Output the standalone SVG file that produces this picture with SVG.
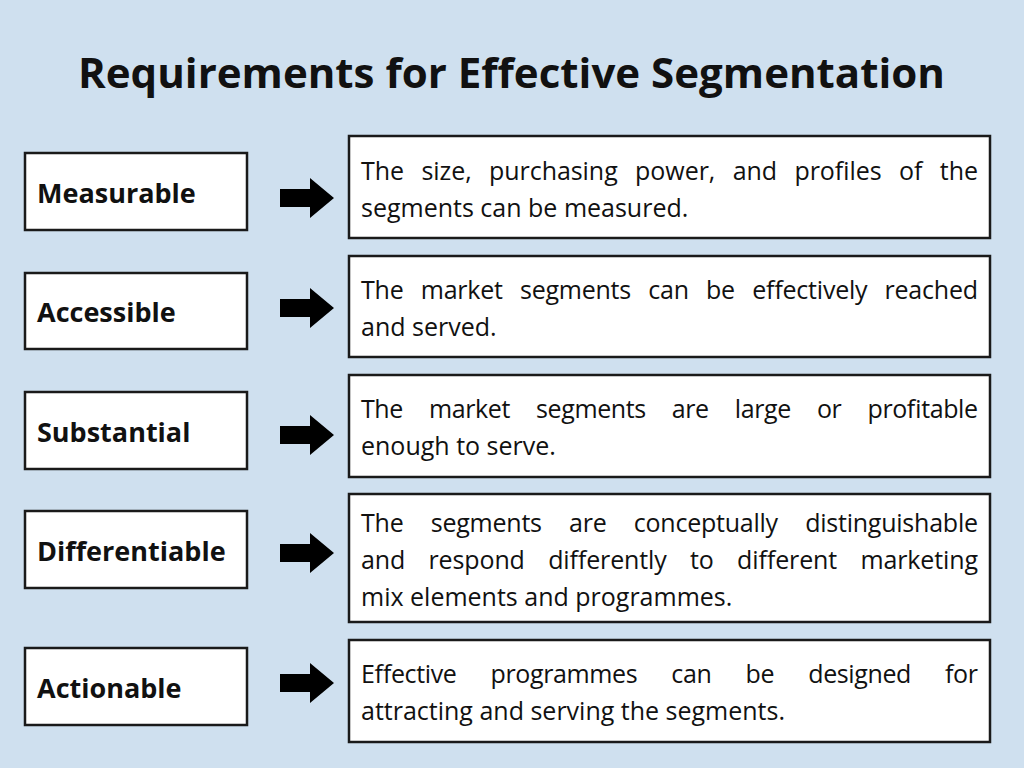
<svg xmlns="http://www.w3.org/2000/svg" width="1024" height="768" viewBox="0 0 1024 768">
<style>
.l{fill:#fff;stroke:#1a1a1a;stroke-width:2.5}
.lt{font-family:"Open Sans","Liberation Sans",sans-serif;font-weight:bold;font-size:27px;fill:#111}
.rt{font-family:"Open Sans","Liberation Sans",sans-serif;font-size:25px;fill:#111}
.ti{font-family:"Open Sans","Liberation Sans",sans-serif;font-weight:bold;font-size:42px;fill:#111}
</style>
<defs>
<path id="ar" d="M280,-9 H310 V-20 L334,0 L310,20 V9 H280 Z" fill="#000"/>
</defs>
<rect width="1024" height="768" fill="#cfe0ef"/>
<text class="ti" x="78" y="88" textLength="867" lengthAdjust="spacingAndGlyphs">Requirements for Effective Segmentation</text>
<g id="connectors">
<use href="#ar" y="198"/><use href="#ar" y="308"/><use href="#ar" y="435"/><use href="#ar" y="553"/><use href="#ar" y="683"/>
</g>
<g id="n1"><rect class="l" x="25" y="153" width="222" height="77"/><text class="lt" x="37" y="203">Measurable</text></g>
<g id="n2"><rect class="l" x="25" y="273" width="222" height="76"/><text class="lt" x="37" y="322">Accessible</text></g>
<g id="n3"><rect class="l" x="25" y="392" width="222" height="77"/><text class="lt" x="37" y="442">Substantial</text></g>
<g id="n4"><rect class="l" x="25" y="511" width="222" height="77"/><text class="lt" x="37" y="561">Differentiable</text></g>
<g id="n5"><rect class="l" x="25" y="648" width="222" height="77"/><text class="lt" x="37" y="698">Actionable</text></g>
<g id="d1"><rect class="l" x="349" y="136" width="641" height="102"/>
<text class="rt" x="361" y="180" word-spacing="11" textLength="617" lengthAdjust="spacing">The size, purchasing power, and profiles of the</text>
<text class="rt" x="361" y="217">segments can be measured.</text></g>
<g id="d2"><rect class="l" x="349" y="256" width="641" height="101"/>
<text class="rt" x="361" y="299" word-spacing="11" textLength="617" lengthAdjust="spacing">The market segments can be effectively reached</text>
<text class="rt" x="361" y="336">and served.</text></g>
<g id="d3"><rect class="l" x="349" y="375" width="641" height="102"/>
<text class="rt" x="361" y="418" word-spacing="20" textLength="617" lengthAdjust="spacing">The market segments are large or profitable</text>
<text class="rt" x="361" y="455">enough to serve.</text></g>
<g id="d4"><rect class="l" x="349" y="494" width="641" height="128"/>
<text class="rt" x="361" y="532" word-spacing="21" textLength="617" lengthAdjust="spacing">The segments are conceptually distinguishable</text>
<text class="rt" x="361" y="569" word-spacing="17" textLength="617" lengthAdjust="spacing">and respond differently to different marketing</text>
<text class="rt" x="361" y="606">mix elements and programmes.</text></g>
<g id="d5"><rect class="l" x="349" y="640" width="641" height="102"/>
<text class="rt" x="361" y="683" word-spacing="28" textLength="617" lengthAdjust="spacing">Effective programmes can be designed for</text>
<text class="rt" x="361" y="720">attracting and serving the segments.</text></g>
</svg>
